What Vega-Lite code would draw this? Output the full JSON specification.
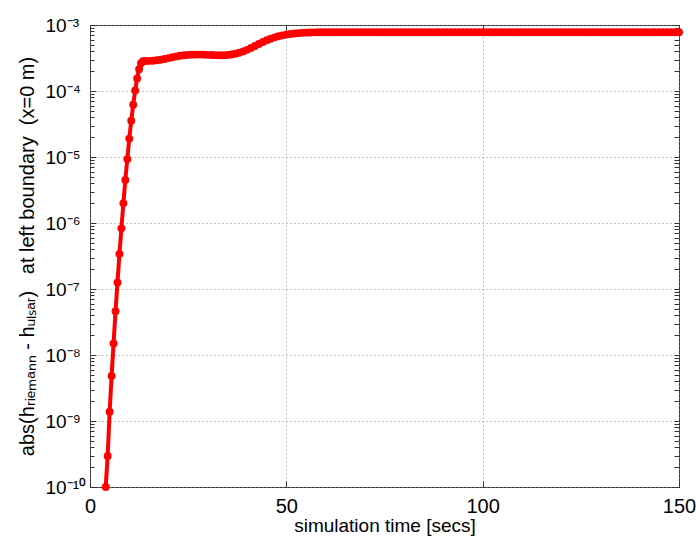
{
  "$schema": "https://vega.github.io/schema/vega-lite/v6.json",
  "autosize": "none",
  "width": 589,
  "height": 462,
  "padding": {"left": 90, "top": 25, "right": 17, "bottom": 50},
  "background": "white",
  "config": {
    "view": {"stroke": "#333", "strokeWidth": 1},
    "font": "Liberation Sans",
    "axis": {"domain": false, "labelFont": "Liberation Sans", "titleFont": "Liberation Sans", "labelColor": "black", "titleColor": "black", "titleFontWeight": "normal", "tickColor": "#333"}
  },
  "data": {"values": [
    {"t":4.0,"v":1.0e-10},{"t":4.5,"v":2.95e-10},{"t":5.0,"v":1.38e-9},{"t":5.5,"v":4.8e-9},
    {"t":6.0,"v":1.5e-8},{"t":6.5,"v":4.6e-8},{"t":7.0,"v":1.26e-7},{"t":7.5,"v":3.4e-7},
    {"t":8.0,"v":8.3e-7},{"t":8.5,"v":2.0e-6},{"t":9.0,"v":4.5e-6},{"t":9.5,"v":9.3e-6},
    {"t":10.0,"v":1.9e-5},{"t":10.5,"v":3.55e-5},{"t":11.0,"v":6.2e-5},{"t":11.5,"v":1.02e-4},
    {"t":12.0,"v":1.55e-4},{"t":12.5,"v":2.14e-4},{"t":13.0,"v":2.63e-4},{"t":13.5,"v":2.82e-4},
    {"t":14,"v":2.86e-4},{"t":15,"v":2.86e-4},{"t":16,"v":2.87e-4},{"t":17,"v":2.92e-4},
    {"t":18,"v":2.98e-4},{"t":19,"v":3.06e-4},{"t":20,"v":3.15e-4},{"t":21,"v":3.25e-4},
    {"t":22,"v":3.34e-4},{"t":23,"v":3.42e-4},{"t":24,"v":3.48e-4},{"t":25,"v":3.52e-4},
    {"t":26,"v":3.55e-4},{"t":27,"v":3.56e-4},{"t":28,"v":3.56e-4},{"t":29,"v":3.55e-4},
    {"t":30,"v":3.53e-4},{"t":31,"v":3.51e-4},{"t":32,"v":3.49e-4},{"t":33,"v":3.48e-4},
    {"t":34,"v":3.48e-4},{"t":35,"v":3.51e-4},{"t":36,"v":3.57e-4},{"t":37,"v":3.67e-4},
    {"t":38,"v":3.8e-4},{"t":39,"v":3.98e-4},{"t":40,"v":4.2e-4},{"t":41,"v":4.48e-4},
    {"t":42,"v":4.8e-4},{"t":43,"v":5.15e-4},{"t":44,"v":5.52e-4},{"t":45,"v":5.88e-4},
    {"t":46,"v":6.2e-4},{"t":47,"v":6.5e-4},{"t":48,"v":6.75e-4},{"t":49,"v":6.97e-4},
    {"t":50,"v":7.15e-4},{"t":51,"v":7.3e-4},{"t":52,"v":7.42e-4},{"t":53,"v":7.52e-4},
    {"t":54,"v":7.6e-4},{"t":55,"v":7.66e-4},{"t":56,"v":7.7e-4},{"t":57,"v":7.74e-4},
    {"t":58,"v":7.76e-4},{"t":59,"v":7.77e-4},{"t":60,"v":7.78e-4},{"t":61,"v":7.78e-4},
    {"t":62,"v":7.78e-4},{"t":63,"v":7.78e-4},{"t":64,"v":7.78e-4},{"t":65,"v":7.78e-4},
    {"t":66,"v":7.78e-4},{"t":67,"v":7.78e-4},{"t":68,"v":7.78e-4},{"t":69,"v":7.78e-4},
    {"t":70,"v":7.78e-4},{"t":71,"v":7.78e-4},{"t":72,"v":7.78e-4},{"t":73,"v":7.78e-4},
    {"t":74,"v":7.78e-4},{"t":75,"v":7.78e-4},{"t":76,"v":7.78e-4},{"t":77,"v":7.78e-4},
    {"t":78,"v":7.78e-4},{"t":79,"v":7.78e-4},{"t":80,"v":7.78e-4},{"t":81,"v":7.78e-4},
    {"t":82,"v":7.78e-4},{"t":83,"v":7.78e-4},{"t":84,"v":7.78e-4},{"t":85,"v":7.78e-4},
    {"t":86,"v":7.78e-4},{"t":87,"v":7.78e-4},{"t":88,"v":7.78e-4},{"t":89,"v":7.78e-4},
    {"t":90,"v":7.78e-4},{"t":91,"v":7.78e-4},{"t":92,"v":7.78e-4},{"t":93,"v":7.78e-4},
    {"t":94,"v":7.78e-4},{"t":95,"v":7.78e-4},{"t":96,"v":7.78e-4},{"t":97,"v":7.78e-4},
    {"t":98,"v":7.78e-4},{"t":99,"v":7.78e-4},{"t":100,"v":7.78e-4},{"t":101,"v":7.78e-4},
    {"t":102,"v":7.78e-4},{"t":103,"v":7.78e-4},{"t":104,"v":7.78e-4},{"t":105,"v":7.78e-4},
    {"t":106,"v":7.78e-4},{"t":107,"v":7.78e-4},{"t":108,"v":7.78e-4},{"t":109,"v":7.78e-4},
    {"t":110,"v":7.78e-4},{"t":111,"v":7.78e-4},{"t":112,"v":7.78e-4},{"t":113,"v":7.78e-4},
    {"t":114,"v":7.78e-4},{"t":115,"v":7.78e-4},{"t":116,"v":7.78e-4},{"t":117,"v":7.78e-4},
    {"t":118,"v":7.78e-4},{"t":119,"v":7.78e-4},{"t":120,"v":7.78e-4},{"t":121,"v":7.78e-4},
    {"t":122,"v":7.78e-4},{"t":123,"v":7.78e-4},{"t":124,"v":7.78e-4},{"t":125,"v":7.78e-4},
    {"t":126,"v":7.78e-4},{"t":127,"v":7.78e-4},{"t":128,"v":7.78e-4},{"t":129,"v":7.78e-4},
    {"t":130,"v":7.78e-4},{"t":131,"v":7.78e-4},{"t":132,"v":7.78e-4},{"t":133,"v":7.78e-4},
    {"t":134,"v":7.78e-4},{"t":135,"v":7.78e-4},{"t":136,"v":7.78e-4},{"t":137,"v":7.78e-4},
    {"t":138,"v":7.78e-4},{"t":139,"v":7.78e-4},{"t":140,"v":7.78e-4},{"t":141,"v":7.78e-4},
    {"t":142,"v":7.78e-4},{"t":143,"v":7.78e-4},{"t":144,"v":7.78e-4},{"t":145,"v":7.78e-4},
    {"t":146,"v":7.78e-4},{"t":147,"v":7.78e-4},{"t":148,"v":7.78e-4},{"t":149,"v":7.78e-4},
    {"t":150,"v":7.78e-4}
  ]},
  "resolve": {"axis": {"x": "independent", "y": "independent"}},
  "layer": [
    {
      "mark": {"type": "line", "color": "#ff0000", "strokeWidth": 4, "point": {"filled": true, "size": 62, "color": "#ff0000", "opacity": 1}},
      "encoding": {
        "x": {"field": "t", "type": "quantitative",
          "scale": {"domain": [0, 150], "nice": false, "zero": false},
          "axis": {"orient": "bottom", "values": [0, 50, 100, 150], "grid": true, "gridDash": [1, 3], "gridColor": "#888", "tickSize": -6, "labelFontSize": 20, "labelPadding": 15, "labelFlush": false, "titleFontSize": 19, "titlePadding": 0, "title": "simulation time [secs]"}},
        "y": {"field": "v", "type": "quantitative",
          "scale": {"type": "log", "domain": [1e-10, 1e-3], "nice": false},
          "axis": {"orient": "left", "values": [1e-10, 1e-9, 1e-8, 1e-7, 1e-6, 1e-5, 1e-4, 1e-3], "grid": true, "gridDash": [1, 3], "gridColor": "#888", "tickSize": -6, "labelFontSize": 19, "labelAlign": "left", "labelPadding": 51, "labelOffset": 0,
            "labelExpr": "'10' + ['⁻¹⁰','⁻⁹','⁻⁸','⁻⁷','⁻⁶','⁻⁵','⁻⁴','⁻³'][round(log(datum.value)/LN10)+10]",
            "titleFontSize": 20, "titlePadding": 8,
            "title": "abs(hᵣᵢₑₘₐₙₙ - hᵤₗₛₐᵣ)\u00a0\u00a0\u00a0at left boundary\u00a0\u00a0(x=0 m)"}}
      }
    },
    {
      "mark": {"type": "point", "opacity": 0},
      "encoding": {
        "x": {"field": "t", "type": "quantitative",
          "axis": {"orient": "top", "values": [0, 50, 100, 150], "labels": false, "grid": false, "tickSize": -6, "title": null}},
        "y": {"field": "v", "type": "quantitative",
          "axis": {"orient": "right", "labels": false, "grid": false, "tickSize": -5, "title": null,
            "values": [1e-10,2e-10,3e-10,4e-10,5e-10,6e-10,7e-10,8e-10,9e-10,1e-9,2e-9,3e-9,4e-9,5e-9,6e-9,7e-9,8e-9,9e-9,1e-8,2e-8,3e-8,4e-8,5e-8,6e-8,7e-8,8e-8,9e-8,1e-7,2e-7,3e-7,4e-7,5e-7,6e-7,7e-7,8e-7,9e-7,1e-6,2e-6,3e-6,4e-6,5e-6,6e-6,7e-6,8e-6,9e-6,1e-5,2e-5,3e-5,4e-5,5e-5,6e-5,7e-5,8e-5,9e-5,1e-4,2e-4,3e-4,4e-4,5e-4,6e-4,7e-4,8e-4,9e-4,1e-3]}}
      }
    },
    {
      "mark": {"type": "point", "opacity": 0},
      "encoding": {
        "x": {"field": "t", "type": "quantitative", "axis": null},
        "y": {"field": "v", "type": "quantitative",
          "axis": {"orient": "left", "labels": false, "grid": false, "tickSize": -4, "title": null,
            "values": [2e-10,3e-10,4e-10,5e-10,6e-10,7e-10,8e-10,9e-10,2e-9,3e-9,4e-9,5e-9,6e-9,7e-9,8e-9,9e-9,2e-8,3e-8,4e-8,5e-8,6e-8,7e-8,8e-8,9e-8,2e-7,3e-7,4e-7,5e-7,6e-7,7e-7,8e-7,9e-7,2e-6,3e-6,4e-6,5e-6,6e-6,7e-6,8e-6,9e-6,2e-5,3e-5,4e-5,5e-5,6e-5,7e-5,8e-5,9e-5,2e-4,3e-4,4e-4,5e-4,6e-4,7e-4,8e-4,9e-4]}}
      }
    }
  ]
}
